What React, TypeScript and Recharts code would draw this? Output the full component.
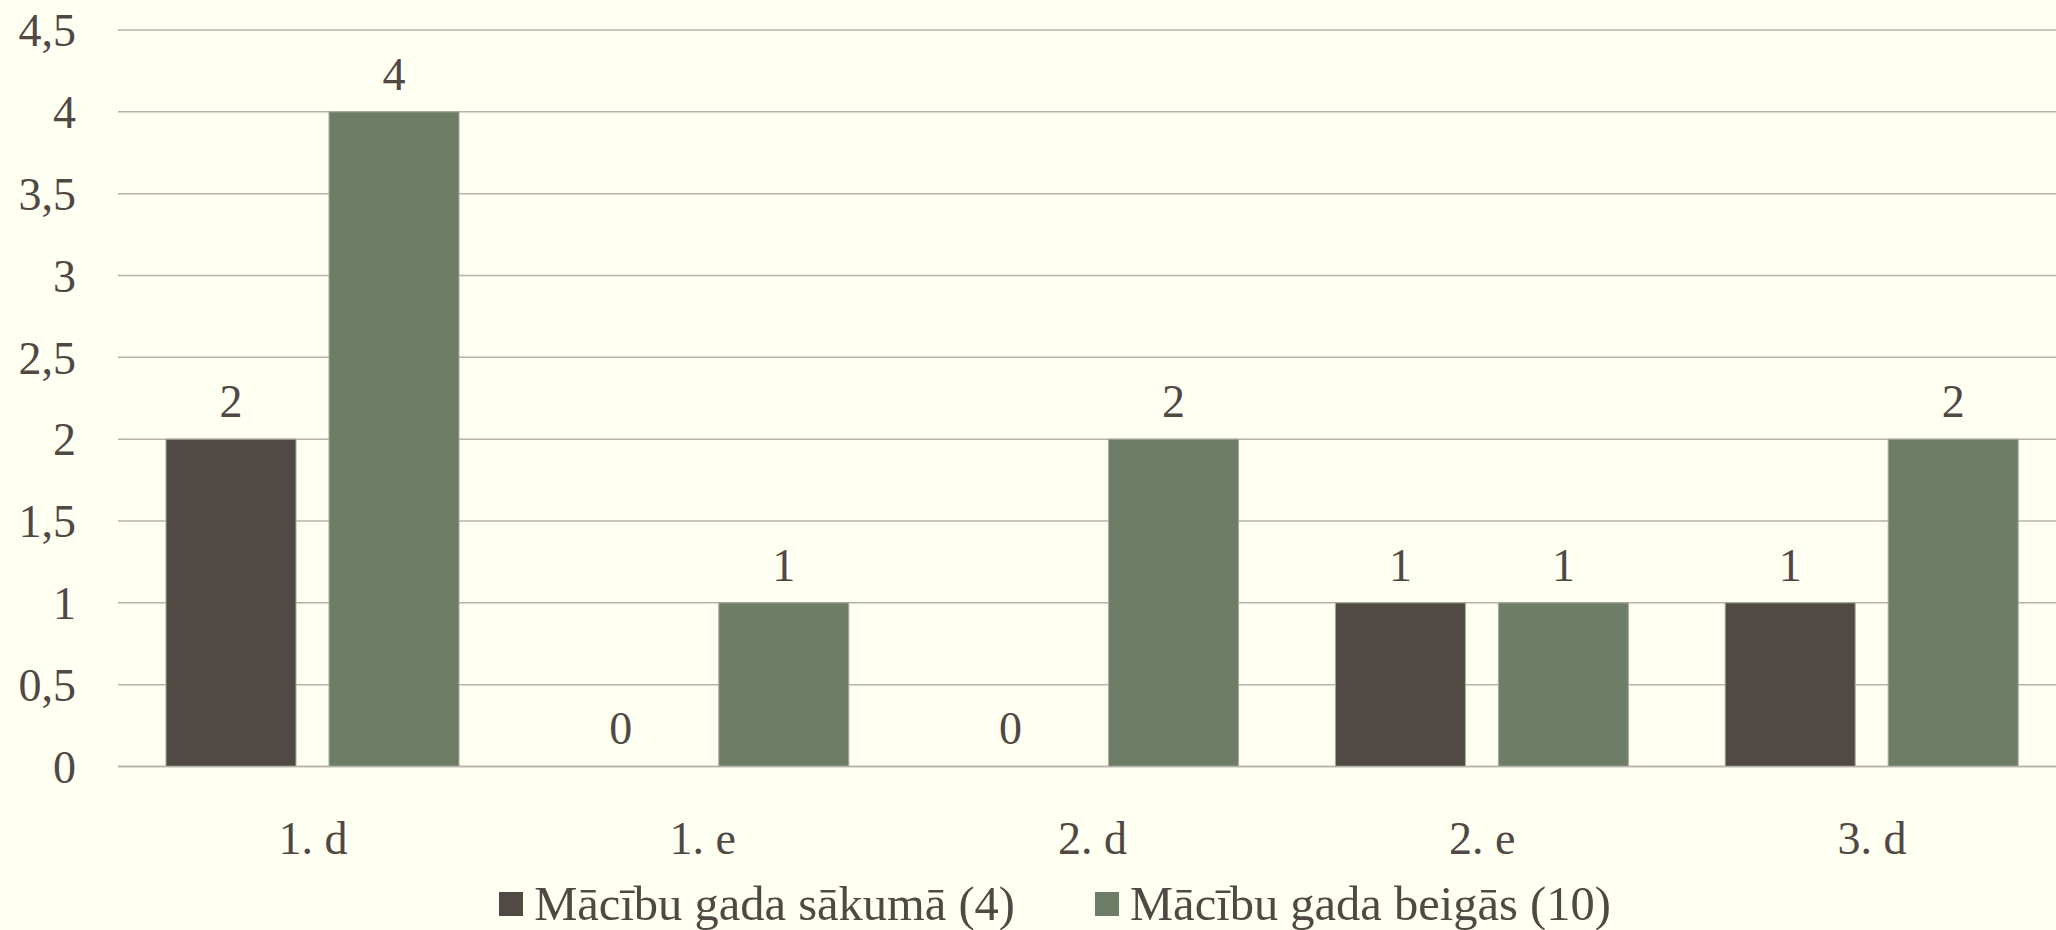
import React from "react";
import { BarChart, Bar, XAxis, YAxis, CartesianGrid, LabelList, Legend } from "recharts";

const categories = ["1. d", "1. e", "2. d", "2. e", "3. d"];
const startValues = [2, 0, 0, 1, 1];
const endValues = [4, 1, 2, 1, 2];
const seriesNames = ["Mācību gada sākumā (4)", "Mācību gada beigās (10)"];
const seriesColors = ["#504944", "#6E7D66"];
const yTicks = [0, 0.5, 1, 1.5, 2, 2.5, 3, 3.5, 4, 4.5];

const data = categories.map((c, i) => ({ name: c, start: startValues[i], end: endValues[i] }));

const FONT = "'Liberation Serif', 'Times New Roman', serif";
const TEXT = "#4F4843";
const FS = 46;

const fmt = (v: number) => String(v).replace(".", ",");

const LegendContent = () => (
  <div style={{ display: "flex", justifyContent: "center", alignItems: "center", fontFamily: FONT, fontSize: 48.5, color: TEXT, lineHeight: 1 }}>
    {seriesNames.map((n, i) => (
      <div key={n} style={{ display: "flex", alignItems: "center", marginRight: i === 0 ? 80 : 0 }}>
        <div style={{ width: 24, height: 24, background: seriesColors[i], marginRight: 11 }} />
        <span>{n}</span>
      </div>
    ))}
  </div>
);

const minSize = (v: number) => (v === 0 ? 0.01 : 0);

export default function App() {
  return (
    <div style={{ position: "fixed", left: 0, top: 0, width: 2056, height: 930, overflow: "hidden", background: "#FFFFF2" }}>
      <BarChart
        width={2070}
        height={930}
        data={data}
        margin={{ top: 30, right: 3, bottom: 103.5, left: 0 }}
        barSize={130}
        barGap={33}
      >
        <CartesianGrid vertical={false} stroke="#B4B4AC" strokeWidth={1.5} />
        <XAxis
          dataKey="name"
          axisLine={{ stroke: "#B4B4AC", strokeWidth: 1.5 }}
          tickLine={false}
          tickSize={0}
          tickMargin={55}
          height={60}
          tick={{ fill: TEXT, fontSize: FS, fontFamily: FONT }}
          interval={0}
        />
        <YAxis
          domain={[0, 4.5]}
          ticks={yTicks}
          width={118}
          axisLine={false}
          tickLine={false}
          tickSize={0}
          tickMargin={42}
          tickFormatter={fmt}
          tick={{ fill: TEXT, fontSize: FS, fontFamily: FONT }}
          interval={0}
        />
        <Legend
          layout="horizontal"
          verticalAlign="middle"
          align="center"
          content={<LegendContent />}
          wrapperStyle={{ top: 880, left: 0, width: 2110 }}
        />
        <Bar dataKey="start" name={seriesNames[0]} fill={seriesColors[0]} stroke="#A8A8A0" strokeWidth={1} minPointSize={minSize} isAnimationActive={false}>
          <LabelList dataKey="start" position="top" offset={22} fill={TEXT} fontSize={FS} fontFamily={FONT} />
        </Bar>
        <Bar dataKey="end" name={seriesNames[1]} fill={seriesColors[1]} stroke="#A8A8A0" strokeWidth={1} minPointSize={minSize} isAnimationActive={false}>
          <LabelList dataKey="end" position="top" offset={22} fill={TEXT} fontSize={FS} fontFamily={FONT} />
        </Bar>
      </BarChart>
    </div>
  );
}
